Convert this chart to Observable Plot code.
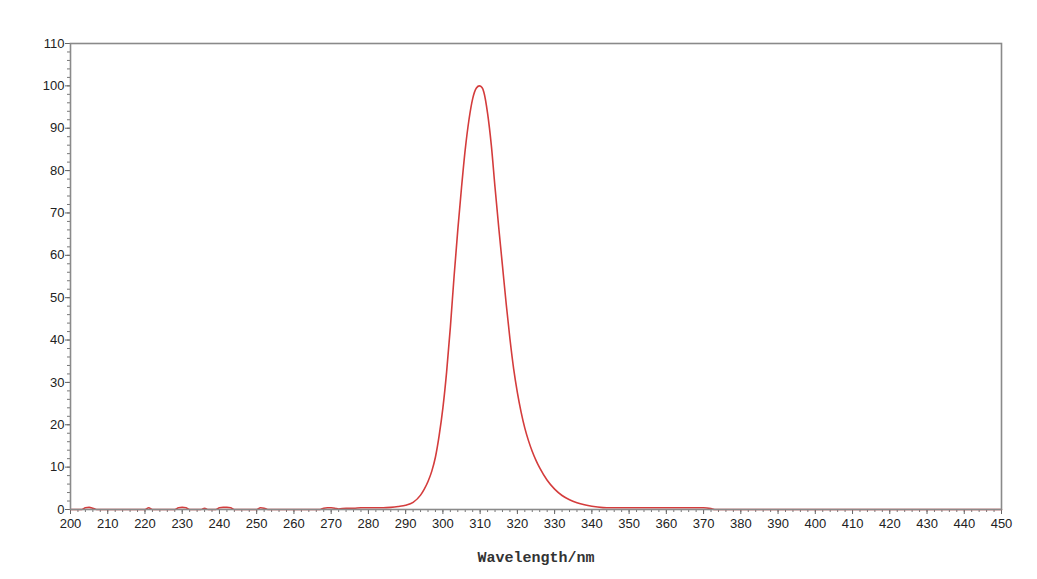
<!DOCTYPE html>
<html>
<head>
<meta charset="utf-8">
<script src="https://cdn.jsdelivr.net/npm/d3@7"></script>
<script src="https://cdn.jsdelivr.net/npm/@observablehq/plot@0.6"></script>
<style>
  html, body { margin: 0; padding: 0; background: #fff; }
</style>
</head>
<body>
<div id="chart"></div>
<script>
// Wavelength (nm) and relative intensity
const wavelength = [200,203,204,205,206,207,220,221,222,228,229,230,231,232,235,236,237,239,240,241,242,243,244,250,251,252,253,267,268,269,270,271,272,274,276,278,280,282,284,286,288,290,292,294,295,296,297,298,299,300,301,302,303,304,305,306,307,308,309,309.8,310.5,311,312,313,314,315,316,317,318,319,320,321,322,323,324,325,326,328,330,332,334,336,338,340,343,345,350,355,360,365,370,372,373,450];
const intensity  = [0,0,0.4,0.5,0.3,0,0,0.4,0,0,0.4,0.5,0.4,0,0,0.3,0,0,0.4,0.5,0.5,0.4,0,0,0.4,0.3,0,0,0.3,0.4,0.4,0.3,0.1,0.3,0.3,0.4,0.4,0.4,0.4,0.5,0.7,1.0,1.7,3.4,4.8,6.6,9.0,12.4,17.5,24,32.5,43,55,66,76,85,92,97,99.5,100,99.6,98.5,93.5,86,76,66.5,57.5,48.5,40.3,33.2,27.6,23.0,19.2,16.2,13.7,11.6,9.8,6.9,4.8,3.3,2.3,1.6,1.1,0.75,0.45,0.4,0.4,0.4,0.4,0.4,0.4,0.2,0,0];

const xMajorTicks = d3.range(200, 451, 10);
const xMinorTicks = d3.range(200, 451, 2);
const yMajorTicks = d3.range(0, 111, 10);
const yMinorTicks = d3.range(0, 111, 2);
const xLabel = "Wavelength/nm";

const data = wavelength.map((w, i) => ({w, v: intensity[i]}));

const chart = Plot.plot({
  width: 1037,
  height: 579,
  marginLeft: 70,
  marginRight: 36,
  marginTop: 43,
  marginBottom: 70,
  x: {domain: [200, 450], label: null},
  y: {domain: [0, 110], label: null},
  style: {fontFamily: "Liberation Sans, Arial, sans-serif", fontSize: "13px", color: "#222", background: "#fff"},
  marks: [
    Plot.axisX({ticks: xMinorTicks, tickSize: 3, text: null, label: null, stroke: "#777"}),
    Plot.axisX({ticks: xMajorTicks, tickSize: 5, tickPadding: 4, label: null, stroke: "#666", fontSize: 13, fill: "#222"}),
    Plot.axisY({ticks: yMinorTicks, tickSize: 3, text: null, label: null, stroke: "#777"}),
    Plot.axisY({ticks: yMajorTicks, tickSize: 5, tickPadding: 1, label: null, stroke: "#666", fontSize: 13, fill: "#222"}),
    Plot.line(data, {x: "w", y: "v", stroke: "#d43c3c", strokeWidth: 1.6, curve: "monotone-x"}),
    Plot.frame({stroke: "#8a8a8a", strokeWidth: 1.6}),
    Plot.text([xLabel], {frameAnchor: "bottom", dy: 52, fontFamily: "Liberation Mono, DejaVu Sans Mono, monospace", fontWeight: "bold", fontSize: 15, fill: "#333"})
  ]
});
document.getElementById("chart").appendChild(chart);
</script>
</body>
</html>
